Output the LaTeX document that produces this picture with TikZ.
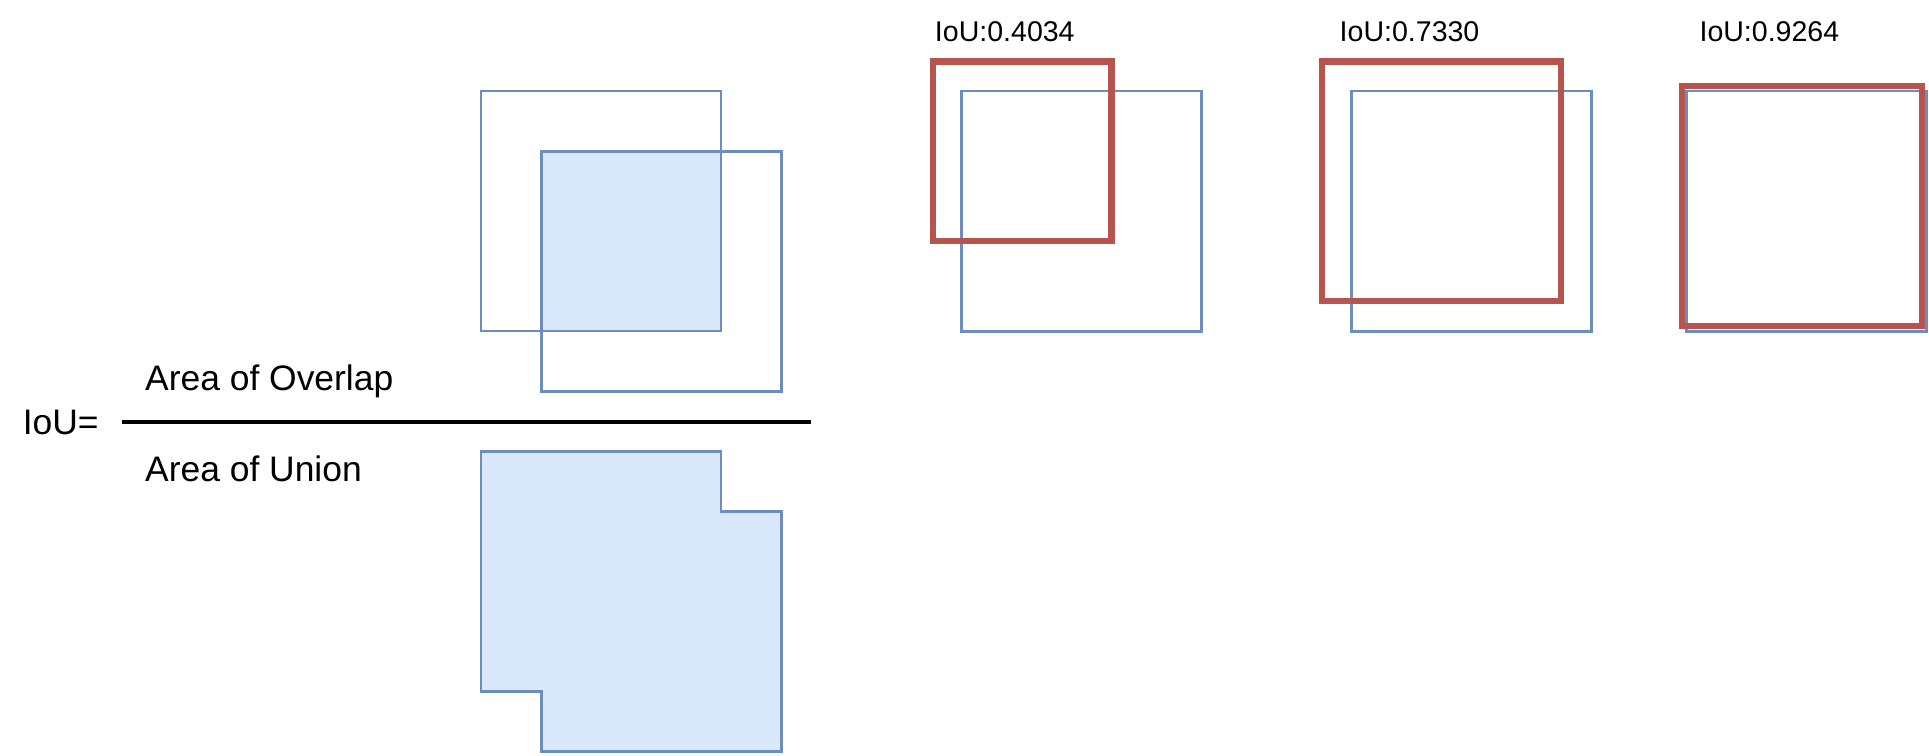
\documentclass[tikz,border=0pt]{standalone}
\usepackage{fontspec}
\setmainfont{Liberation Sans}
\definecolor{bbox}{HTML}{6C8EBF}
\definecolor{bfill}{HTML}{DAE8FC}
\definecolor{rbox}{HTML}{B85450}
\begin{document}
\begin{tikzpicture}[x=1pt,y=-1pt,
  bluebox/.style={draw=bbox,line width=2.2pt},
  redbox/.style={draw=rbox,line width=5pt},
  biglab/.style={anchor=base west,inner sep=0pt,outer sep=0pt,font=\fontsize{28.8}{34}\selectfont},
  toplab/.style={anchor=base west,inner sep=0pt,outer sep=0pt,font=\fontsize{23.2}{28}\selectfont}]
\useasboundingbox (0,0) rectangle (1568,614.5);
% left: two boxes with overlap
\fill[bfill] (440,123) rectangle (586,269);
\draw[bluebox] (391,74) rectangle (586,269);
\draw[bluebox] (440,123) rectangle (635,318);
% fraction
\coordinate (barL) at (99,343);
\coordinate (barR) at (659,343);
\draw[black,line width=3pt] (barL) -- (barR);
\node[biglab] (iou) at (18.5,353) {IoU=};
\node[biglab] (overlap) at (118,317.5) {Area of Overlap};
\node[biglab] (union) at (118,391.5) {Area of Union};
% union shape
\draw[bluebox,fill=bfill] (391,367) -- (586,367) -- (586,416) -- (635,416) -- (635,611) -- (440,611) -- (440,562) -- (391,562) -- cycle;
% examples
\draw[bluebox] (781.5,74) rectangle (976.5,269.5);
\draw[redbox] (758.5,50) rectangle (903.5,196);
\node[toplab] (l1) at (760,34) {IoU:0.4034};
\draw[bluebox] (1098.5,74) rectangle (1293.5,269.5);
\draw[redbox] (1074.5,50) rectangle (1269,245);
\node[toplab] (l2) at (1089,34) {IoU:0.7330};
\draw[bluebox] (1371,74) rectangle (1566,269.5);
\draw[redbox] (1367,69.7) rectangle (1562,265);
\node[toplab] (l3) at (1381.5,34) {IoU:0.9264};
\end{tikzpicture}
\end{document}
